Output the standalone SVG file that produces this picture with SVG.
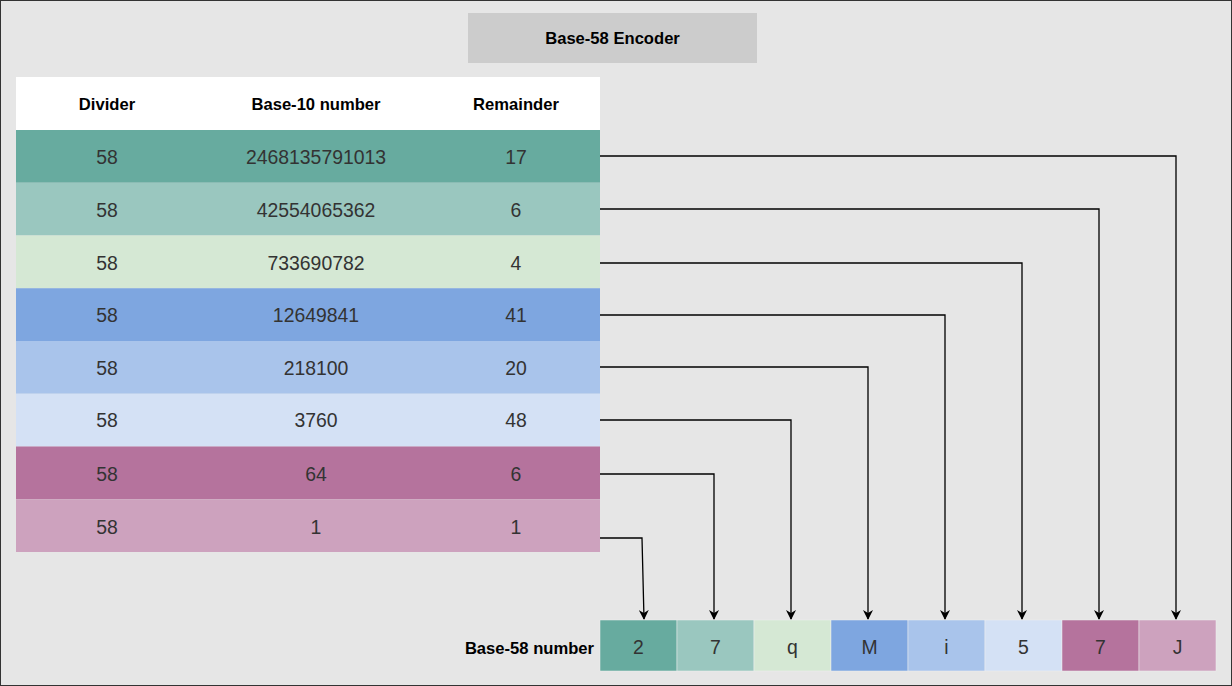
<svg xmlns="http://www.w3.org/2000/svg" width="1232" height="686" viewBox="0 0 1232 686">
<defs>
<marker id="ah" viewBox="0 0 10 10" refX="9" refY="5" markerWidth="10" markerHeight="10" markerUnits="userSpaceOnUse" orient="auto">
<path d="M0,0 L10,5 L0,10 L3,5 Z" fill="#000"/>
</marker>
<style>
.t{font-family:"Liberation Sans",Arial,sans-serif;text-anchor:middle;dominant-baseline:central}
.h{font-size:16.6px;font-weight:bold;fill:#000}
.d{font-size:19.4px;fill:#333}
.c{fill:none;stroke:#000;stroke-width:1.3}
</style>
</defs>
<rect x="0.5" y="0.5" width="1231" height="685" fill="#e6e6e6" stroke="#333" stroke-width="1"/>
<g id="title">
<rect x="468" y="13" width="289" height="50" fill="#cccccc"/>
<text class="t h" x="612.5" y="38">Base-58 Encoder</text>
</g>
<g id="header">
<rect x="16" y="77" width="584" height="53" fill="#ffffff"/>
<text class="t h" x="107" y="104">Divider</text>
<text class="t h" x="316" y="104">Base-10 number</text>
<text class="t h" x="516" y="104">Remainder</text>
</g>
<g id="row1"><rect x="16" y="130" width="584" height="52.75" fill="#67AB9F"/><text class="t d" x="107" y="157">58</text><text class="t d" x="316" y="157">2468135791013</text><text class="t d" x="516" y="157">17</text></g>
<g id="row2"><rect x="16" y="182.75" width="584" height="52.75" fill="#9AC7BF"/><text class="t d" x="107" y="210">58</text><text class="t d" x="316" y="210">42554065362</text><text class="t d" x="516" y="210">6</text></g>
<g id="row3"><rect x="16" y="235.5" width="584" height="52.75" fill="#D5E8D4"/><text class="t d" x="107" y="263">58</text><text class="t d" x="316" y="263">733690782</text><text class="t d" x="516" y="263">4</text></g>
<g id="row4"><rect x="16" y="288.25" width="584" height="52.75" fill="#7EA6E0"/><text class="t d" x="107" y="315">58</text><text class="t d" x="316" y="315">12649841</text><text class="t d" x="516" y="315">41</text></g>
<g id="row5"><rect x="16" y="341" width="584" height="52.75" fill="#A9C4EB"/><text class="t d" x="107" y="368">58</text><text class="t d" x="316" y="368">218100</text><text class="t d" x="516" y="368">20</text></g>
<g id="row6"><rect x="16" y="393.75" width="584" height="52.75" fill="#D4E1F5"/><text class="t d" x="107" y="420">58</text><text class="t d" x="316" y="420">3760</text><text class="t d" x="516" y="420">48</text></g>
<g id="row7"><rect x="16" y="446.5" width="584" height="52.75" fill="#B5739D"/><text class="t d" x="107" y="474">58</text><text class="t d" x="316" y="474">64</text><text class="t d" x="516" y="474">6</text></g>
<g id="row8"><rect x="16" y="499.25" width="584" height="52.75" fill="#CDA2BE"/><text class="t d" x="107" y="527">58</text><text class="t d" x="316" y="527">1</text><text class="t d" x="516" y="527">1</text></g>
<g id="connectors">
<path class="c" d="M600,156 H1176 V619" marker-end="url(#ah)"/>
<path class="c" d="M600,209 H1099 V619" marker-end="url(#ah)"/>
<path class="c" d="M600,263 H1022 V619" marker-end="url(#ah)"/>
<path class="c" d="M600,315 H945 V619" marker-end="url(#ah)"/>
<path class="c" d="M600,367 H868 V619" marker-end="url(#ah)"/>
<path class="c" d="M600,420 H791 V619" marker-end="url(#ah)"/>
<path class="c" d="M600,474 H714 V619" marker-end="url(#ah)"/>
<path class="c" d="M600,538 H642 L644,619" marker-end="url(#ah)"/>
</g>
<g id="base58">
<text class="t h" x="594" y="648" style="text-anchor:end">Base-58 number</text>
<g id="b1"><rect x="600" y="620" width="77" height="51" fill="#67AB9F" stroke="#f0f0f0" stroke-width="0.5"/><text class="t d" x="638.5" y="647">2</text></g>
<g id="b2"><rect x="677" y="620" width="77" height="51" fill="#9AC7BF" stroke="#f0f0f0" stroke-width="0.5"/><text class="t d" x="715.5" y="647">7</text></g>
<g id="b3"><rect x="754" y="620" width="77" height="51" fill="#D5E8D4" stroke="#f0f0f0" stroke-width="0.5"/><text class="t d" x="792.5" y="647">q</text></g>
<g id="b4"><rect x="831" y="620" width="77" height="51" fill="#7EA6E0" stroke="#f0f0f0" stroke-width="0.5"/><text class="t d" x="869.5" y="647">M</text></g>
<g id="b5"><rect x="908" y="620" width="77" height="51" fill="#A9C4EB" stroke="#f0f0f0" stroke-width="0.5"/><text class="t d" x="946.5" y="647">i</text></g>
<g id="b6"><rect x="985" y="620" width="77" height="51" fill="#D4E1F5" stroke="#f0f0f0" stroke-width="0.5"/><text class="t d" x="1023.5" y="647">5</text></g>
<g id="b7"><rect x="1062" y="620" width="77" height="51" fill="#B5739D" stroke="#f0f0f0" stroke-width="0.5"/><text class="t d" x="1100.5" y="647">7</text></g>
<g id="b8"><rect x="1139" y="620" width="77" height="51" fill="#CDA2BE" stroke="#f0f0f0" stroke-width="0.5"/><text class="t d" x="1177.5" y="647">J</text></g>
</g>
</svg>
